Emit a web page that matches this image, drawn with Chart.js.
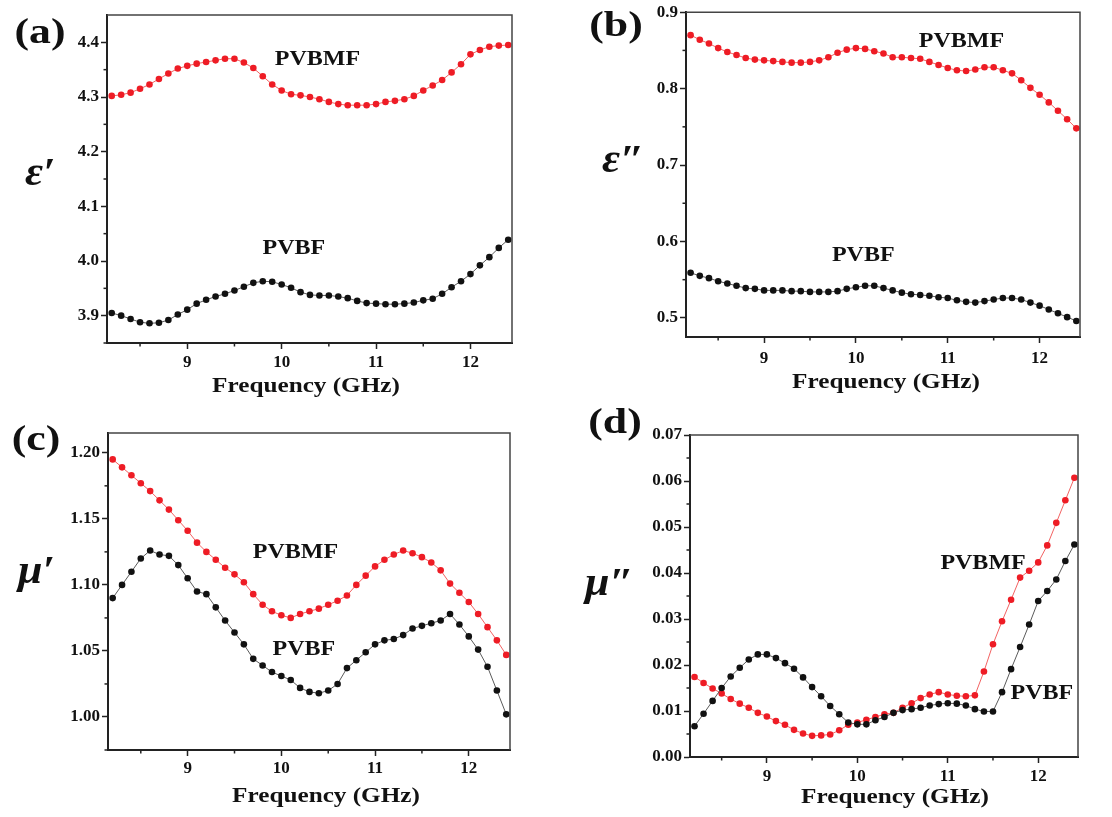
<!DOCTYPE html>
<html>
<head>
<meta charset="utf-8">
<script src="https://cdn.jsdelivr.net/npm/chart.js@4.4.1/dist/chart.umd.min.js"></script>
<style>
  html, body { margin: 0; padding: 0; background: #ffffff; }
  #wrap { position: relative; width: 1112px; height: 817px; overflow: hidden; background: #fff; }
  canvas { position: absolute; }
</style>
</head>
<body>
<div id="wrap">
  <canvas id="pa" width="556" height="400" style="left:0px;top:0px;"></canvas>
  <canvas id="pb" width="556" height="400" style="left:556px;top:0px;"></canvas>
  <canvas id="pc" width="556" height="422" style="left:0px;top:395px;"></canvas>
  <canvas id="pd" width="556" height="422" style="left:556px;top:395px;"></canvas>
</div>
<script>
// ---------------- DATA ----------------
const freq = [8.2, 8.3, 8.4, 8.5, 8.6, 8.7, 8.8, 8.9, 9.0, 9.1, 9.2, 9.3, 9.4, 9.5, 9.6, 9.7, 9.8, 9.9,
  10.0, 10.1, 10.2, 10.3, 10.4, 10.5, 10.6, 10.7, 10.8, 10.9, 11.0, 11.1, 11.2, 11.3, 11.4, 11.5, 11.6,
  11.7, 11.8, 11.9, 12.0, 12.1, 12.2, 12.3, 12.4];

const seriesNames = ['PVBF', 'PVBMF'];

// (a) epsilon'
const epsRealPVBMF = [4.302, 4.304, 4.308, 4.315, 4.323, 4.333, 4.343, 4.352, 4.357, 4.361, 4.364, 4.367,
  4.370, 4.370, 4.363, 4.353, 4.338, 4.323, 4.312, 4.305, 4.303, 4.300, 4.296, 4.291, 4.287, 4.285, 4.285,
  4.285, 4.287, 4.291, 4.293, 4.296, 4.302, 4.312, 4.321, 4.331, 4.345, 4.360, 4.378, 4.386, 4.392, 4.394, 4.395];
const epsRealPVBF = [3.905, 3.900, 3.894, 3.888, 3.886, 3.887, 3.892, 3.902, 3.911, 3.922, 3.929, 3.935,
  3.940, 3.946, 3.953, 3.960, 3.963, 3.962, 3.957, 3.951, 3.943, 3.938, 3.937, 3.937, 3.935, 3.932, 3.927,
  3.923, 3.922, 3.921, 3.921, 3.922, 3.924, 3.928, 3.931, 3.940, 3.952, 3.963, 3.976, 3.992, 4.007, 4.024, 4.039];

// (b) epsilon''
const epsImagPVBMF = [0.870, 0.864, 0.859, 0.853, 0.848, 0.844, 0.840, 0.838, 0.837, 0.836, 0.835, 0.834,
  0.834, 0.835, 0.837, 0.841, 0.847, 0.851, 0.853, 0.852, 0.849, 0.846, 0.841, 0.841, 0.840, 0.839, 0.835,
  0.831, 0.827, 0.824, 0.823, 0.825, 0.828, 0.828, 0.824, 0.820, 0.811, 0.801, 0.792, 0.782, 0.771, 0.760, 0.748];
const epsImagPVBF = [0.559, 0.555, 0.552, 0.548, 0.545, 0.542, 0.539, 0.538, 0.536, 0.536, 0.536, 0.535,
  0.535, 0.534, 0.534, 0.534, 0.535, 0.538, 0.540, 0.542, 0.542, 0.539, 0.536, 0.533, 0.531, 0.530, 0.529,
  0.527, 0.526, 0.523, 0.521, 0.520, 0.522, 0.524, 0.526, 0.526, 0.524, 0.520, 0.516, 0.511, 0.506, 0.501, 0.496];

// (c) mu'
const muRealPVBMF = [1.195, 1.189, 1.183, 1.177, 1.171, 1.164, 1.157, 1.149, 1.141, 1.132, 1.125, 1.119,
  1.113, 1.108, 1.102, 1.093, 1.085, 1.080, 1.077, 1.075, 1.078, 1.080, 1.082, 1.085, 1.088, 1.092, 1.100,
  1.107, 1.114, 1.119, 1.123, 1.126, 1.124, 1.121, 1.117, 1.111, 1.101, 1.094, 1.087, 1.078, 1.068, 1.058, 1.047];
const muRealPVBF = [1.090, 1.100, 1.110, 1.120, 1.126, 1.123, 1.122, 1.115, 1.105, 1.095, 1.093, 1.083,
  1.073, 1.064, 1.055, 1.044, 1.039, 1.034, 1.031, 1.028, 1.022, 1.019, 1.018, 1.020, 1.025, 1.037, 1.043,
  1.049, 1.055, 1.058, 1.059, 1.062, 1.067, 1.069, 1.071, 1.073, 1.078, 1.070, 1.061, 1.051, 1.038, 1.020, 1.002];

// (d) mu''
const muImagPVBMF = [0.0174, 0.0161, 0.0149, 0.0138, 0.0126, 0.0116, 0.0107, 0.0096, 0.0088, 0.0078, 0.0070,
  0.0059, 0.0051, 0.0046, 0.0047, 0.0049, 0.0058, 0.0070, 0.0075, 0.0081, 0.0087, 0.0093, 0.0096, 0.0107,
  0.0117, 0.0128, 0.0136, 0.0141, 0.0136, 0.0133, 0.0132, 0.0134, 0.0186, 0.0245, 0.0295, 0.0342, 0.0390,
  0.0405, 0.0423, 0.0460, 0.0509, 0.0558, 0.0607];
const muImagPVBF = [0.0067, 0.0094, 0.0122, 0.0150, 0.0175, 0.0194, 0.0212, 0.0223, 0.0223, 0.0215, 0.0204,
  0.0192, 0.0173, 0.0152, 0.0132, 0.0111, 0.0093, 0.0075, 0.0071, 0.0071, 0.0080, 0.0087, 0.0096, 0.0102,
  0.0104, 0.0107, 0.0112, 0.0115, 0.0117, 0.0116, 0.0112, 0.0104, 0.0099, 0.0099, 0.0141, 0.0191, 0.0239,
  0.0288, 0.0339, 0.0361, 0.0386, 0.0426, 0.0462];

// tick labels
const xTicks = [9, 10, 11, 12];
const xMinorTicks = [8.5, 9.5, 10.5, 11.5];
const yTicksA = [3.9, 4.0, 4.1, 4.2, 4.3, 4.4];
const yMinorA = [3.85, 3.95, 4.05, 4.15, 4.25, 4.35];
const yTicksB = [0.5, 0.6, 0.7, 0.8, 0.9];
const yMinorB = [0.55, 0.65, 0.75, 0.85];
const yTicksC = [1.00, 1.05, 1.10, 1.15, 1.20];
const yMinorC = [0.975, 1.025, 1.075, 1.125, 1.175];
const yTicksD = [0.00, 0.01, 0.02, 0.03, 0.04, 0.05, 0.06, 0.07];
const yMinorD = [0.005, 0.015, 0.025, 0.035, 0.045, 0.055, 0.065];

const xTitle = 'Frequency (GHz)';

// ---------------- STYLE ----------------
const SERIF = '"Liberation Serif", "Times New Roman", serif';
const RED = '#ee1c25';
const RED_LINE = 'rgba(240,70,70,0.85)';
const BLACK = '#111111';
const BLACK_LINE = '#5a5a5a';
const AXIS = '#222222';

function pts(vals) { return freq.map((f, i) => ({ x: f, y: vals[i] })); }

const panelPlugin = {
  id: 'panelDecor',
  afterDraw(chart, args, opts) {
    const ctx = chart.ctx;
    const ca = chart.chartArea;
    const xs = chart.scales.x, ys = chart.scales.y;
    ctx.save();
    // frame (top / right)
    ctx.strokeStyle = '#444';
    ctx.lineWidth = 1.5;
    ctx.beginPath();
    ctx.moveTo(ca.left, ca.top); ctx.lineTo(ca.right, ca.top); ctx.lineTo(ca.right, ca.bottom);
    ctx.stroke();
    // minor ticks
    ctx.strokeStyle = AXIS;
    ctx.lineWidth = 1.5;
    (opts.xMinor || []).forEach(v => {
      const px = xs.getPixelForValue(v);
      ctx.beginPath(); ctx.moveTo(px, ca.bottom); ctx.lineTo(px, ca.bottom + 3.5); ctx.stroke();
    });
    (opts.yMinor || []).forEach(v => {
      const py = ys.getPixelForValue(v);
      ctx.beginPath(); ctx.moveTo(ca.left, py); ctx.lineTo(ca.left - 3.5, py); ctx.stroke();
    });
    // text helper (slightly widened like the original figure)
    function txt(t, x, y, font, align, base, sx) {
      ctx.save();
      ctx.font = font;
      ctx.fillStyle = '#111';
      ctx.textAlign = align;
      ctx.textBaseline = base;
      ctx.translate(x, y);
      ctx.scale(sx, 1);
      ctx.fillText(t, 0, 0);
      ctx.restore();
    }
    if (opts.letter) {
      const L = opts.letter;
      txt(L.text, L.x, L.y, 'bold 35px ' + SERIF, 'center', 'middle', 1.25);
    }
    if (opts.yTitle) {
      const T = opts.yTitle;
      txt(T.text, T.x, T.y, 'bold italic 40px ' + SERIF, 'left', 'alphabetic', 1.1);
    }
    if (opts.xTitle) {
      const X = opts.xTitle;
      txt(X.text, X.x, X.y, 'bold 21px ' + SERIF, 'center', 'middle', 1.2);
    }
    (opts.labels || []).forEach(l => {
      txt(l.text, xs.getPixelForValue(l.x), ys.getPixelForValue(l.y), 'bold 20px ' + SERIF, 'center', 'middle', 1.2);
    });
    ctx.restore();
  }
};

function makePanel(id, p) {
  const ctx = document.getElementById(id);
  return new Chart(ctx, {
    type: 'line',
    data: {
      datasets: [
        { label: seriesNames[0], data: pts(p.black), borderColor: BLACK_LINE, borderWidth: 1,
          pointBackgroundColor: BLACK, pointBorderWidth: 0, pointRadius: 3.3, tension: 0 },
        { label: seriesNames[1], data: pts(p.red), borderColor: RED_LINE, borderWidth: 1,
          pointBackgroundColor: RED, pointBorderWidth: 0, pointRadius: 3.3, tension: 0 }
      ]
    },
    options: {
      responsive: false,
      animation: false,
      devicePixelRatio: 1,
      layout: { padding: { top: p.padTop, right: p.padRight, left: 0, bottom: 0 } },
      plugins: {
        legend: { display: false },
        tooltip: { enabled: false },
        panelDecor: {
          letter: p.letter, yTitle: p.yTitle, labels: p.labels,
          xTitle: { text: xTitle, x: p.xTitleX, y: p.xTitleY },
          xMinor: xMinorTicks, yMinor: p.yMinor
        }
      },
      scales: {
        x: {
          type: 'linear',
          min: 8.15, max: 12.44,
          afterBuildTicks: s => { s.ticks = xTicks.map(v => ({ value: v })); },
          afterFit: s => { s.height = p.xHeight; },
          grid: { display: true, drawOnChartArea: false, drawTicks: true, tickLength: 6, tickWidth: 1.5, tickColor: AXIS },
          border: { display: true, color: AXIS, width: 2 },
          ticks: { color: '#111', padding: p.xTickPad, font: { family: SERIF, size: 17, weight: 'bold' },
            callback: v => String(v) },
          title: { display: false }
        },
        y: {
          type: 'linear',
          min: p.yMin, max: p.yMax,
          afterBuildTicks: s => { s.ticks = p.yTicks.map(v => ({ value: v })); },
          afterFit: s => { s.width = p.yWidth; },
          grid: { display: true, drawOnChartArea: false, drawTicks: true, tickLength: 6, tickWidth: 1.5, tickColor: AXIS },
          border: { display: true, color: AXIS, width: 2 },
          ticks: { color: '#111', padding: 2, font: { family: SERIF, size: 17, weight: 'bold' },
            callback: v => Number(v).toFixed(p.dec) }
        }
      }
    },
    plugins: [panelPlugin]
  });
}

makePanel('pa', {
  red: epsRealPVBMF, black: epsRealPVBF,
  yMin: 3.85, yMax: 4.45, yTicks: yTicksA, yMinor: yMinorA, dec: 1,
  padTop: 15, padRight: 44, yWidth: 107, xHeight: 57, xTickPad: 3, xTitleX: 306, xTitleY: 387,
  letter: { text: '(a)', x: 40, y: 34 },
  yTitle: { text: 'ε′', x: 25, y: 185 },
  labels: [{ text: 'PVBMF', x: 10.38, y: 4.368 }, { text: 'PVBF', x: 10.13, y: 4.023 }]
});
makePanel('pb', {
  red: epsImagPVBMF, black: epsImagPVBF,
  yMin: 0.475, yMax: 0.9, yTicks: yTicksB, yMinor: yMinorB, dec: 1,
  padTop: 12, padRight: 32, yWidth: 130, xHeight: 63, xTickPad: 5, xTitleX: 330, xTitleY: 383,
  letter: { text: '(b)', x: 60, y: 27 },
  yTitle: { text: 'ε″', x: 46, y: 172 },
  labels: [{ text: 'PVBMF', x: 11.15, y: 0.861 }, { text: 'PVBF', x: 10.08, y: 0.581 }]
});
makePanel('pc', {
  red: muRealPVBMF, black: muRealPVBF,
  yMin: 0.975, yMax: 1.215, yTicks: yTicksC, yMinor: yMinorC, dec: 2,
  padTop: 38, padRight: 46, yWidth: 108, xHeight: 67, xTickPad: 2, xTitleX: 326, xTitleY: 402,
  letter: { text: '(c)', x: 36, y: 46 },
  yTitle: { text: 'μ′', x: 18, y: 188 },
  labels: [{ text: 'PVBMF', x: 10.15, y: 1.124 }, { text: 'PVBF', x: 10.24, y: 1.051 }]
});
makePanel('pd', {
  red: muImagPVBMF, black: muImagPVBF,
  yMin: 0, yMax: 0.07, yTicks: yTicksD, yMinor: yMinorD, dec: 2,
  padTop: 40, padRight: 34, yWidth: 134, xHeight: 60, xTickPad: 3, xTitleX: 339, xTitleY: 403,
  letter: { text: '(d)', x: 59, y: 29 },
  yTitle: { text: 'μ″', x: 29, y: 200 },
  labels: [{ text: 'PVBMF', x: 11.39, y: 0.0421 }, { text: 'PVBF', x: 12.04, y: 0.0138 }]
});
</script>
</body>
</html>
